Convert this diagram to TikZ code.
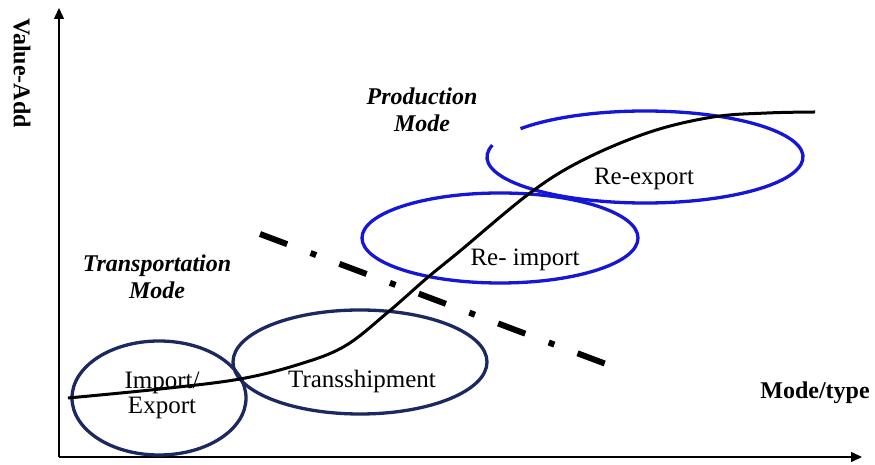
\documentclass[tikz,border=0pt]{standalone}
\usepackage{fontspec}
\setmainfont{Liberation Serif}
\usetikzlibrary{arrows.meta}
\definecolor{navyline}{RGB}{28,40,96}
\definecolor{blueline}{RGB}{22,22,215}

\begin{document}
\begin{tikzpicture}[x=1pt,y=1pt]

\tikzstyle{every node}=[font=\fontsize{25}{25}\selectfont,align=center]
\tikzstyle{axis}=[line width=1.4pt,-{Triangle[length=11pt,width=10pt]}]
\tikzstyle{navyring}=[line width=3.3pt,navyline]
\tikzstyle{bluering}=[line width=3.3pt,blueline]
\tikzstyle{modetext}=[font=\fontsize{24}{27}\selectfont\bfseries\itshape]
\tikzstyle{axistext}=[font=\fontsize{24}{27}\selectfont\bfseries]

\useasboundingbox (0,0) rectangle (875,465);

\coordinate (o) at (59,8);
\coordinate (ytop) at (59,457);
\coordinate (xend) at (862,8);
\draw[axis] (o) -- (ytop);
\draw[axis] (o) -- (xend);

\draw[navyring] (159,67) ellipse[x radius=87, y radius=57];
\draw[navyring] (360,103) ellipse[x radius=127, y radius=52];
\draw[bluering] (500,227) ellipse[x radius=138, y radius=45];
\draw[bluering] (645,308) ++(165:158 and 46)
  arc[start angle=165, end angle=502, x radius=158, y radius=46];

\coordinate (cutA) at (260,231);
\coordinate (cutB) at (606,101);
\draw[line width=6pt, dash pattern=on 29pt off 25pt on 6pt off 24.8pt] (cutA) -- (cutB);

\draw[line width=3pt] plot[smooth, tension=0.6] coordinates {
  (68,67) (160,76) (240,86) (300,101) (345,119) (387,152) (427,187)
  (460,214) (530,272) (583,305) (650,333) (713,348) (767,352) (815,353)};

\node (imex) at (162,70) {Import/\\Export};
\node (trans) at (362,84) {Transshipment};
\node (reimp) at (525,205) {Re- import};
\node (reexp) at (644,286) {Re-export};
\node[modetext] (tmode) at (157,188) {Transportation\\Mode};
\node[modetext] (pmode) at (422,355) {Production\\Mode};
\node[axistext] (xlab) at (815,72) {Mode/type};
\node[axistext, rotate=-90] (ylab) at (22,392) {Value-Add};

\end{tikzpicture}
\end{document}
